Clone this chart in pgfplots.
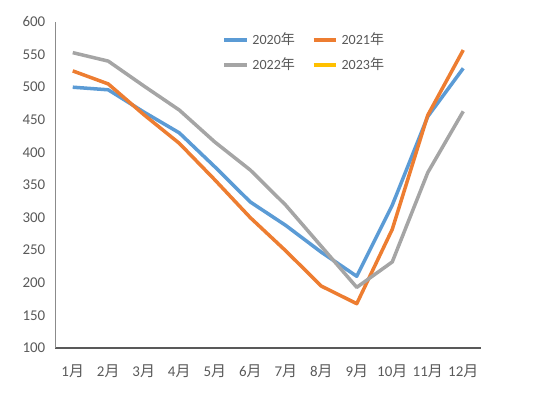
\documentclass[border=0pt]{standalone}
\usepackage{pgfplots}
\pgfplotsset{compat=1.18}
\usepackage{fontspec}
\setmainfont{Carlito}
\newfontfamily\cjk{Noto Sans CJK SC}
\definecolor{cblue}{HTML}{5B9BD5}
\definecolor{corange}{HTML}{ED7D31}
\definecolor{cgray}{HTML}{A5A5A5}
\definecolor{cyellow}{HTML}{FFC000}
\definecolor{ctext}{HTML}{595959}
\begin{document}
\begin{tikzpicture}
\path[use as bounding box] (0,0) rectangle (11cm,7.86cm);
\begin{axis}[
  at={(1.1cm,0.9cm)}, anchor=south west,
  scale only axis, width=8.52cm, height=6.52cm,
  xmin=0.5, xmax=12.5, ymin=100, ymax=600,
  xtick={1,...,12},
  xticklabels={1{\cjk 月},2{\cjk 月},3{\cjk 月},4{\cjk 月},5{\cjk 月},6{\cjk 月},7{\cjk 月},8{\cjk 月},9{\cjk 月},10{\cjk 月},11{\cjk 月},12{\cjk 月}},
  ytick={100,150,...,600},
  axis x line=bottom, axis y line=left,
  x axis line style={-, draw=ctext, line width=1.3pt},
  y axis line style={-, draw=ctext!70, line width=0.5pt},
  major tick length=0pt,
  tick label style={font=\fontsize{8.5}{10}\selectfont, text=ctext},
  /pgf/number format/assume math mode=true,
  yticklabel style={xshift=-2pt},
  xticklabel style={yshift=-6pt},
  legend style={at={(rel axis cs:0.38,0.99)}, anchor=north west, draw=none, fill=none,
    font=\fontsize{8}{10}\selectfont, text=ctext, row sep=2pt,
    /tikz/column 2/.style={column sep=7.5pt}},
  legend columns=2,
  legend image code/.code={\draw[#1, line width=2.2pt] (0cm,0cm) -- (0.45cm,0cm);},
  every axis plot/.append style={line width=2pt, line join=round},
]
\addplot[cblue, mark=none] coordinates {(1,500) (2,496) (3,462) (4,430) (5,378) (6,324) (7,288) (8,247) (9,210) (10,319) (11,455) (12,529)};
\addlegendentry{2020{\cjk 年}}
\addplot[corange, mark=none] coordinates {(1,525) (2,505) (3,458) (4,414) (5,358) (6,300) (7,249) (8,195) (9,168) (10,282) (11,457) (12,557)};
\addlegendentry{2021{\cjk 年}}
\addplot[cgray, mark=none] coordinates {(1,553) (2,540) (3,502) (4,465) (5,416) (6,373) (7,319) (8,256) (9,193) (10,232) (11,369) (12,463)};
\addlegendentry{2022{\cjk 年}}
\addlegendimage{cyellow}
\addlegendentry{2023{\cjk 年}}
\end{axis}
\end{tikzpicture}
\end{document}
